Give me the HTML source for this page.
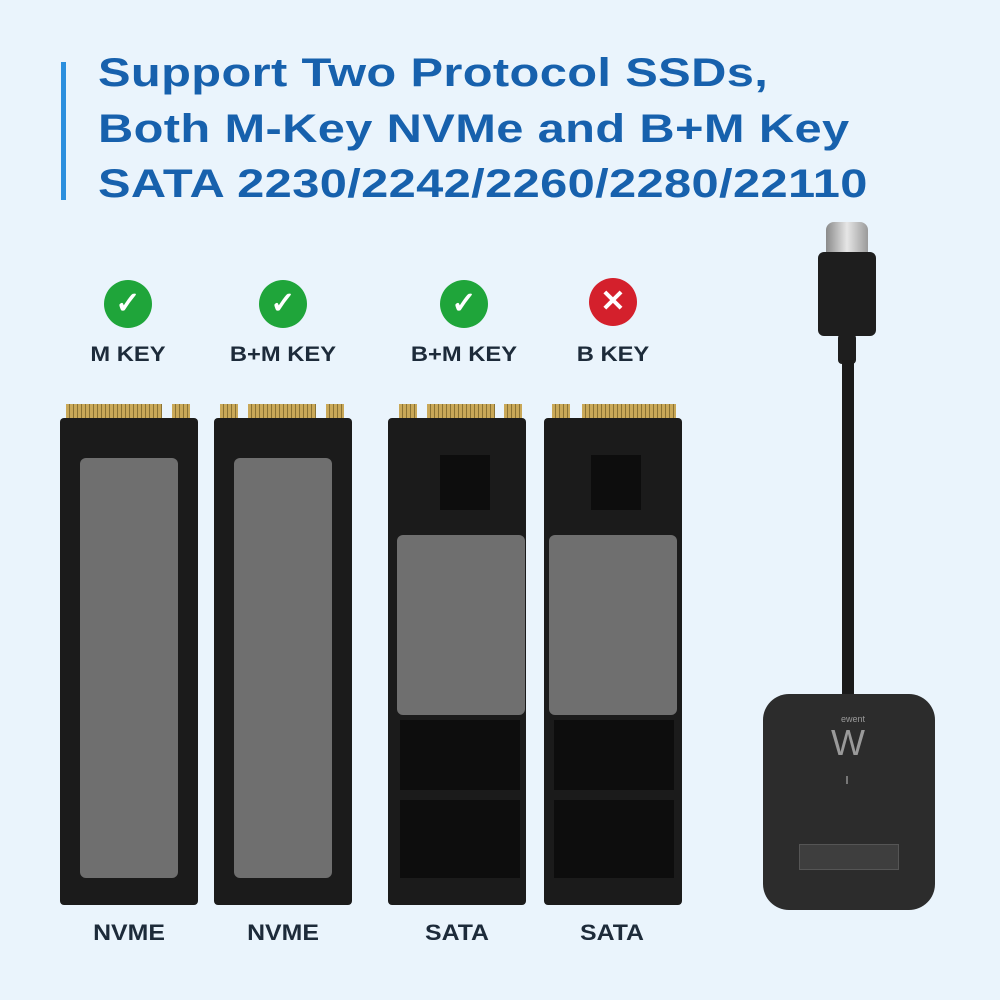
<!DOCTYPE html><html><head><style>
body{margin:0;width:1000px;height:1000px;background:#eaf4fc;position:relative;overflow:hidden;font-family:"Liberation Sans",sans-serif}
.a{position:absolute}
.t{left:98px;color:#1761ad;font-weight:bold;font-size:40px;white-space:nowrap;letter-spacing:0.3px;transform:scaleX(1.22);transform-origin:0 0}
.lab{position:absolute;font-weight:bold;font-size:21px;color:#1d2b3a;text-align:center;width:160px;transform:scaleX(1.13)}
.ic{position:absolute;width:48px;height:48px;border-radius:50%;color:#fff;font-size:30px;font-weight:bold;text-align:center;line-height:48px}
.ssd{position:absolute;background:#1b1b1b;border-radius:4px}
.gold{position:absolute;height:14px;background:repeating-linear-gradient(90deg,#c9a858 0 3px,#8a7233 3px 4px)}
.chip{position:absolute;background:#6f6f6f;border-radius:6px}
.blk{position:absolute;background:#0d0d0d}
</style></head><body>
<div class="a" style="left:61px;top:62px;width:5px;height:138px;background:#2b8fde"></div>
<div class="a t" style="top:51px">Support Two Protocol SSDs,</div>
<div class="a t" style="top:107px">Both M-Key NVMe and B+M Key</div>
<div class="a t" style="top:162px">SATA 2230/2242/2260/2280/22110</div>

<div class="ic" style="left:104px;top:280px;background:#1fa53a">✓</div>
<div class="ic" style="left:259px;top:280px;background:#1fa53a">✓</div>
<div class="ic" style="left:440px;top:280px;background:#1fa53a">✓</div>
<div class="ic" style="left:589px;top:278px;background:#d4202c">✕</div>
<div class="lab" style="left:48px;top:343px">M KEY</div>
<div class="lab" style="left:203px;top:343px">B+M KEY</div>
<div class="lab" style="left:384px;top:343px">B+M KEY</div>
<div class="lab" style="left:533px;top:343px">B KEY</div>

<div class="ssd" style="left:60px;top:418px;width:138px;height:487px"></div>
<div class="gold" style="left:66px;top:404px;width:96px"></div>
<div class="gold" style="left:172px;top:404px;width:18px"></div>
<div class="chip" style="left:80px;top:458px;width:98px;height:420px"></div>

<div class="ssd" style="left:214px;top:418px;width:138px;height:487px"></div>
<div class="gold" style="left:220px;top:404px;width:18px"></div>
<div class="gold" style="left:248px;top:404px;width:68px"></div>
<div class="gold" style="left:326px;top:404px;width:18px"></div>
<div class="chip" style="left:234px;top:458px;width:98px;height:420px"></div>

<div class="ssd" style="left:388px;top:418px;width:138px;height:487px"></div>
<div class="gold" style="left:399px;top:404px;width:18px"></div>
<div class="gold" style="left:427px;top:404px;width:68px"></div>
<div class="gold" style="left:504px;top:404px;width:18px"></div>
<div class="blk" style="left:440px;top:455px;width:50px;height:55px"></div>
<div class="chip" style="left:397px;top:535px;width:128px;height:180px"></div>
<div class="blk" style="left:400px;top:720px;width:120px;height:70px"></div>
<div class="blk" style="left:400px;top:800px;width:120px;height:78px"></div>

<div class="ssd" style="left:544px;top:418px;width:138px;height:487px"></div>
<div class="gold" style="left:552px;top:404px;width:18px"></div>
<div class="gold" style="left:582px;top:404px;width:94px"></div>
<div class="blk" style="left:591px;top:455px;width:50px;height:55px"></div>
<div class="chip" style="left:549px;top:535px;width:128px;height:180px"></div>
<div class="blk" style="left:554px;top:720px;width:120px;height:70px"></div>
<div class="blk" style="left:554px;top:800px;width:120px;height:78px"></div>

<div class="lab" style="left:49px;top:920px;font-size:22px">NVME</div>
<div class="lab" style="left:203px;top:920px;font-size:22px">NVME</div>
<div class="lab" style="left:377px;top:920px;font-size:22px">SATA</div>
<div class="lab" style="left:532px;top:920px;font-size:22px">SATA</div>

<div class="a" style="left:826px;top:222px;width:42px;height:36px;background:linear-gradient(90deg,#8a8a8a,#e6e6e6,#9a9a9a);border-radius:8px 8px 2px 2px"></div>
<div class="a" style="left:818px;top:252px;width:58px;height:84px;background:#1e1e1e;border-radius:6px"></div>
<div class="a" style="left:838px;top:334px;width:18px;height:30px;background:#1e1e1e;border-radius:4px"></div>
<div class="a" style="left:842px;top:360px;width:12px;height:340px;background:#1a1a1a"></div>
<div class="a" style="left:763px;top:694px;width:172px;height:216px;background:#2c2c2c;border-radius:26px"></div>
<div class="a" style="left:828px;top:714px;width:50px;color:#999;font-size:9px;text-align:center">ewent</div>
<div class="a" style="left:823px;top:722px;width:50px;color:#9a9a9a;font-size:36px;text-align:center">W</div>
<div class="a" style="left:846px;top:776px;width:2px;height:8px;background:#777"></div>
<div class="a" style="left:799px;top:844px;width:98px;height:24px;background:#3e3e3e;border:1px solid #555"></div>
</body></html>
